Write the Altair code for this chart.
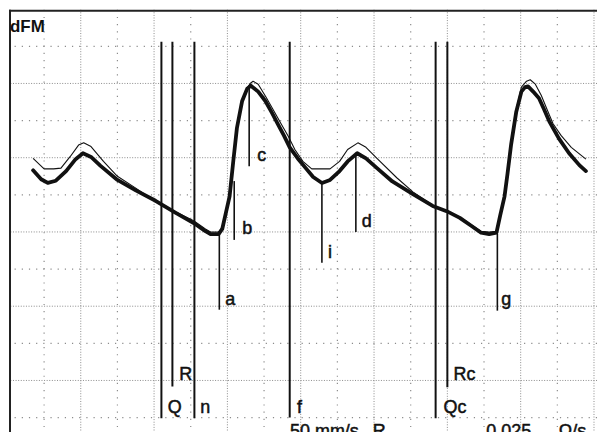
import altair as alt
import pandas as pd

# ---- waveform data (x in grid divisions of time, y in grid divisions of dFM) ----
thick_x = [0.35, 0.46, 0.55, 0.66, 0.80, 0.93, 1.03, 1.14, 1.27, 1.50, 1.75, 2.02, 2.29, 2.54,
           2.70, 2.77, 2.88, 2.93, 2.98, 3.03, 3.08, 3.13, 3.20, 3.27, 3.32, 3.42, 3.52, 3.61,
           3.69, 3.77, 3.85, 3.96, 4.06, 4.17, 4.29, 4.40, 4.53, 4.64, 4.77, 4.89, 5.04, 5.25,
           5.53, 5.80, 5.99, 6.17, 6.33, 6.46, 6.57, 6.67, 6.72, 6.78, 6.82, 6.87, 6.94, 7.01,
           7.06, 7.10, 7.17, 7.25, 7.32, 7.39, 7.52, 7.66, 7.80, 7.89]
thick_y = [2.83, 2.71, 2.66, 2.69, 2.82, 2.98, 3.06, 3.01, 2.89, 2.70, 2.56, 2.42, 2.26, 2.12,
           2.01, 1.97, 1.97, 2.04, 2.26, 2.48, 2.95, 3.40, 3.76, 3.93, 3.97, 3.89, 3.76, 3.60,
           3.45, 3.30, 3.14, 2.99, 2.87, 2.74, 2.66, 2.70, 2.82, 2.95, 3.06, 2.99, 2.86, 2.68,
           2.51, 2.35, 2.28, 2.19, 2.08, 1.99, 1.97, 1.99, 2.22, 2.48, 2.78, 3.18, 3.62, 3.89,
           3.95, 3.96, 3.89, 3.80, 3.65, 3.49, 3.26, 3.06, 2.90, 2.82]

thin_x = [0.35, 0.50, 0.63, 0.73, 0.86, 0.97, 1.04, 1.14, 1.31, 1.50, 1.75, 2.05, 2.54, 2.70,
          2.77, 2.88, 2.93, 2.98, 3.04, 3.08, 3.13, 3.19, 3.26, 3.31, 3.35, 3.42, 3.53, 3.64,
          3.73, 3.83, 3.92, 4.03, 4.15, 4.24, 4.40, 4.53, 4.64, 4.78, 4.89, 5.04, 5.31, 5.53,
          5.80, 6.17, 6.46, 6.57, 6.67, 6.72, 6.78, 6.82, 6.87, 6.94, 7.01, 7.08, 7.13, 7.20,
          7.28, 7.36, 7.44, 7.55, 7.69, 7.89]
thin_y = [2.99, 2.85, 2.85, 2.86, 3.02, 3.17, 3.20, 3.15, 2.95, 2.75, 2.59, 2.39, 2.15, 2.04,
          2.00, 2.00, 2.07, 2.28, 2.58, 2.89, 3.38, 3.72, 3.92, 4.00, 4.03, 3.99, 3.81, 3.62,
          3.46, 3.29, 3.11, 2.95, 2.85, 2.85, 2.85, 2.95, 3.11, 3.20, 3.14, 2.99, 2.73, 2.54,
          2.36, 2.20, 2.01, 2.00, 2.01, 2.24, 2.51, 2.81, 3.21, 3.65, 3.95, 4.03, 4.05, 3.99,
          3.84, 3.65, 3.46, 3.30, 3.14, 2.98]

# ---- event lines ----
event_names = ["Q", "R", "n", "f", "Qc", "Rc"]
event_x = [2.10, 2.25, 2.55, 3.85, 5.84, 6.00]
event_top = [4.56, 4.56, 4.56, 4.56, 4.56, 4.56]
event_bottom = [-0.51, -0.08, -0.51, -0.50, -0.51, -0.09]
event_label_x = [2.185, 2.345, 2.631, 3.950, 5.947, 6.084]
event_label_y = [-0.443, 0.0, -0.443, -0.443, -0.443, 0.0]

# ---- characteristic points ----
point_names = ["a", "b", "c", "i", "d", "g"]
point_x = [2.89, 3.093, 3.297, 4.289, 4.752, 6.682]
point_top = [1.973, 2.685, 3.960, 2.658, 3.060, 1.973]
point_bottom = [0.953, 1.893, 2.886, 1.584, 2.000, 0.940]
point_label_x = [2.971, 3.202, 3.406, 4.371, 4.833, 6.736]
point_label_y = [1.020, 1.973, 2.953, 1.651, 2.067, 1.020]

# ---- grid ----
major_x = [1, 2, 3, 4, 5, 6, 7, 8]
minor_x = [0.5, 1.5, 2.5, 3.5, 4.5, 5.5, 6.5, 7.5]
major_y = [0, 1, 2, 3, 4]
minor_y = [-0.5, 0.5, 1.5, 2.5, 3.5, 4.5]

caption_text = ["50 mm/s", "R", "0.025", "\u03a9/s"]
caption_x = [3.855, 4.983, 6.532, 7.52]
caption_y = [-0.765, -0.765, -0.765, -0.765]

FONT = "Liberation Sans"
xs = alt.Scale(domain=[0.0213, 8.041], nice=False, zero=False)
ys = alt.Scale(domain=[-0.698, 4.993], nice=False, zero=False)


def X(f="x"):
    return alt.X(f"{f}:Q", scale=xs, axis=None)


def Y(f="y"):
    return alt.Y(f"{f}:Q", scale=ys, axis=None)


grid_col = "#8c8c8c"
vmaj = alt.Chart(pd.DataFrame({"x": major_x})).mark_rule(
    color=grid_col, strokeWidth=1, strokeDash=[1, 1.6]).encode(x=X())
vmin = alt.Chart(pd.DataFrame({"x": minor_x})).mark_rule(
    color=grid_col, strokeWidth=1.2, strokeDash=[1.2, 6]).encode(x=X())
hmaj = alt.Chart(pd.DataFrame({"y": major_y})).mark_rule(
    color=grid_col, strokeWidth=1, strokeDash=[1, 1.6]).encode(y=Y())
hmin = alt.Chart(pd.DataFrame({"y": minor_y})).mark_rule(
    color=grid_col, strokeWidth=1.2, strokeDash=[1.2, 6]).encode(y=Y())

frame_top = alt.Chart(pd.DataFrame({"y": [4.98]})).mark_rule(
    color="#222", strokeWidth=2).encode(y=Y())
frame_left = alt.Chart(pd.DataFrame({"x": [0.035]})).mark_rule(
    color="#222", strokeWidth=2).encode(x=X())

ev_df = pd.DataFrame({"name": event_names, "x": event_x, "top": event_top,
                      "bottom": event_bottom, "lx": event_label_x, "ly": event_label_y})
ev_lines = alt.Chart(ev_df).mark_rule(color="#111", strokeWidth=2).encode(
    x=X(), y=Y("top"), y2="bottom:Q")
ev_text = alt.Chart(ev_df).mark_text(
    align="left", baseline="alphabetic", font=FONT, fontSize=18, color="#111",
    stroke="#111", strokeWidth=0.5).encode(
    x=X("lx"), y=Y("ly"), text="name:N")

pt_df = pd.DataFrame({"name": point_names, "x": point_x, "top": point_top,
                      "bottom": point_bottom, "lx": point_label_x, "ly": point_label_y})
pt_lines = alt.Chart(pt_df).mark_rule(color="#111", strokeWidth=1.6).encode(
    x=X(), y=Y("top"), y2="bottom:Q")
pt_text = alt.Chart(pt_df).mark_text(
    align="left", baseline="alphabetic", font=FONT, fontSize=18, color="#111",
    stroke="#111", strokeWidth=0.5).encode(
    x=X("lx"), y=Y("ly"), text="name:N")

thin = alt.Chart(pd.DataFrame({"x": thin_x, "y": thin_y})).mark_line(
    color="#111", strokeWidth=1.1, strokeJoin="round").encode(x=X(), y=Y())
thick = alt.Chart(pd.DataFrame({"x": thick_x, "y": thick_y})).mark_line(
    color="#111", strokeWidth=3.8, strokeJoin="round", strokeCap="round").encode(x=X(), y=Y())

title_txt = alt.Chart(pd.DataFrame({"t": ["dFM"], "x": [0.035], "y": [4.698]})).mark_text(
    align="left", baseline="alphabetic", font=FONT, fontSize=17, fontWeight="bold",
    color="#111").encode(x=X(), y=Y(), text="t:N")

caption = alt.Chart(pd.DataFrame({"t": caption_text, "x": caption_x, "y": caption_y})).mark_text(
    align="left", baseline="alphabetic", font=FONT, fontSize=18, color="#111",
    stroke="#111", strokeWidth=0.5, clip=True).encode(
    x=X(), y=Y(), text="t:N")

chart = alt.layer(
    vmin, hmin, vmaj, hmaj, frame_top, frame_left,
    ev_lines, pt_lines, thin, thick, ev_text, pt_text, title_txt, caption
).properties(width=590, height=424, padding=0, background="white").configure_view(stroke=None)

chart.save("out.html", embed_options={"renderer": "svg", "actions": False})
